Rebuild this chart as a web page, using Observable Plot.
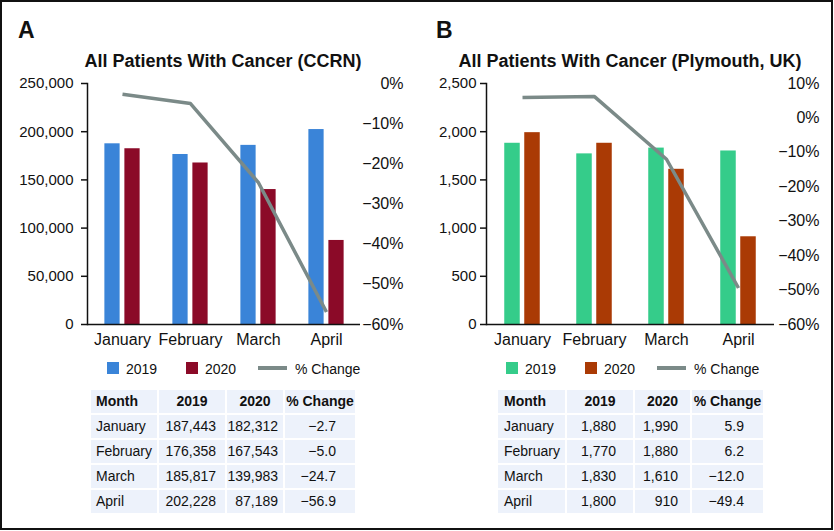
<!DOCTYPE html>
<html>
<head>
<meta charset="utf-8">
<script src="https://cdn.jsdelivr.net/npm/d3@7"></script>
<script src="https://cdn.jsdelivr.net/npm/@observablehq/plot@0.6"></script>
<style>
  html, body { margin: 0; padding: 0; background: #fff; }
  body { width: 834px; height: 531px; position: relative; overflow: hidden;
         font-family: "Liberation Sans", Arial, Helvetica, sans-serif; color: #111; }
  .frame { position: absolute; left: 0; top: 0; width: 833px; height: 530px;
           border: 2px solid #111; box-sizing: border-box; }
  .abs { position: absolute; white-space: nowrap; }
  .plabel { font-size: 23px; line-height: 23px; font-weight: bold; }
  .title { font-size: 18px; line-height: 18px; font-weight: bold; text-align: center; width: 400px; }
  .leg { font-size: 14px; line-height: 14px; }
  .sw { position: absolute; width: 12px; height: 12px; }
  .ln { position: absolute; height: 4px; }
  table.t { position: absolute; border-collapse: separate; border-spacing: 2px; table-layout: fixed;
            font-size: 14px; }
  table.t td { background: #edf2fb; padding: 0; height: 23px; line-height: 23px; white-space: nowrap; }
  table.t td.h { font-weight: bold; }
  table.t td.c { text-align: center; }
  table.t td.r { text-align: right; }
</style>
</head>
<body>
<div class="frame"></div>
<script>
// ---- data ----
const months = ["January", "February", "March", "April"];
const years = ["2019", "2020"];
const ccrn2019 = [187443, 176358, 185817, 202228];
const ccrn2020 = [182312, 167543, 139983, 87189];
const ccrnChange = [-2.7, -5.0, -24.7, -56.9];
const ply2019 = [1880, 1770, 1830, 1800];
const ply2020 = [1990, 1880, 1610, 910];
const plyChange = [5.9, 6.2, -12.0, -49.4];
const ccrnCountTicks = [0, 50000, 100000, 150000, 200000, 250000];
const ccrnPctTicks = [-60, -50, -40, -30, -20, -10, 0];
const plyCountTicks = [0, 500, 1000, 1500, 2000, 2500];
const plyPctTicks = [-60, -50, -40, -30, -20, -10, 0, 10];
const legendLabels = ["2019", "2020", "% Change"];
const tableHeader = ["Month", "2019", "2020", "% Change"];

const lineColor = "#7b8a88";

function panel(cfg) {
  const countMax = cfg.countTicks[cfg.countTicks.length - 1];
  const pMin = cfg.pctTicks[0], pMax = cfg.pctTicks[cfg.pctTicks.length - 1];
  const toCount = p => (p - pMin) / (pMax - pMin) * countMax;
  const fromCount = v => v / countMax * (pMax - pMin) + pMin;
  const bars19 = months.map((m, i) => ({month: m, value: cfg.v2019[i]}));
  const bars20 = months.map((m, i) => ({month: m, value: cfg.v2020[i]}));
  const line = months.map((m, i) => ({month: m, value: toCount(cfg.change[i])}));
  const pctFmt = d3.format("d");

  const bw = (cfg.width - cfg.ml - cfg.mr) / months.length;
  const inset = (bw - 15.5) / 2;

  const chart = Plot.plot({
    width: cfg.width,
    height: 282,
    marginLeft: cfg.ml,
    marginRight: cfg.mr,
    marginTop: 13,
    marginBottom: 28,
    style: {fontFamily: '"Liberation Sans", Arial, sans-serif', fontSize: "15px", color: "#111", background: "transparent", overflow: "visible"},
    x: {type: "band", domain: months, padding: 0, axis: null},
    y: {domain: [0, countMax], axis: null},
    marks: [
      Plot.barY(bars19, {x: "month", y: "value", fill: cfg.c19, insetLeft: inset, insetRight: inset, dx: -10}),
      Plot.barY(bars20, {x: "month", y: "value", fill: cfg.c20, insetLeft: inset, insetRight: inset, dx: 10}),
      Plot.line(line, {x: "month", y: "value", stroke: lineColor, strokeWidth: 3.5, strokeLinecap: "butt"}),
      Plot.ruleY([0], {stroke: "#111", strokeWidth: 1.5}),
      Plot.frame({anchor: "left", stroke: "#111", strokeWidth: 1.5}),
      Plot.axisY(cfg.countTicks, {anchor: "left", tickSize: 6, tickPadding: cfg.lpad, strokeWidth: 1.5, tickFormat: d3.format(","), label: null}),
      Plot.axisY(cfg.pctTicks.map(toCount), {anchor: "right", tickSize: 0, tickPadding: 0, textAnchor: "end", dx: cfg.rdx, fontSize: 16,
        tickFormat: v => pctFmt(Math.round(fromCount(v))) + "%", label: null}),
      Plot.axisX({tickSize: 0, tickPadding: 9, fontSize: 16, label: null})
    ]
  });
  chart.style.position = "absolute";
  chart.style.left = cfg.left + "px";
  chart.style.top = "70px";
  document.body.appendChild(chart);

  // panel letter and title
  const pl = document.createElement("div");
  pl.className = "abs plabel";
  pl.style.left = cfg.letterX + "px"; pl.style.top = "19px";
  pl.textContent = cfg.letter;
  document.body.appendChild(pl);
  const t = document.createElement("div");
  t.className = "abs title";
  t.style.left = (cfg.titleCx - 200) + "px"; t.style.top = "52px";
  t.textContent = cfg.title;
  document.body.appendChild(t);

  // legend
  const colors = [cfg.c19, cfg.c20];
  cfg.legend.forEach((L, i) => {
    if (i < 2) {
      const s = document.createElement("div");
      s.className = "sw"; s.style.left = L.sx + "px"; s.style.top = "362px"; s.style.background = colors[i];
      document.body.appendChild(s);
    } else {
      const s = document.createElement("div");
      s.className = "ln"; s.style.left = L.sx + "px"; s.style.top = "366px"; s.style.width = "29px"; s.style.background = lineColor;
      document.body.appendChild(s);
    }
    const tx = document.createElement("div");
    tx.className = "abs leg"; tx.style.left = L.tx + "px"; tx.style.top = "362px";
    tx.textContent = legendLabels[i];
    document.body.appendChild(tx);
  });

  // table
  const tb = document.createElement("table");
  tb.className = "t";
  tb.style.left = (cfg.tableX - 2) + "px"; tb.style.top = "388px";
  const W = cfg.colW, P = cfg.pad;
  let html = "<tr>";
  html += `<td class="h" style="width:${W[0]}px"><span style="padding-left:${P[0]}px">${tableHeader[0]}</span></td>`;
  for (let c = 1; c < 4; c++) html += `<td class="h c" style="width:${W[c]}px">${tableHeader[c]}</td>`;
  html += "</tr>";
  const nf = d3.format(","), pf = d3.format(".1f");
  months.forEach((m, i) => {
    html += "<tr>";
    html += `<td><span style="padding-left:${P[0]}px">${m}</span></td>`;
    html += `<td class="r"><span style="padding-right:${P[1]}px">${nf(cfg.v2019[i])}</span></td>`;
    html += `<td class="r"><span style="padding-right:${P[2]}px">${nf(cfg.v2020[i])}</span></td>`;
    html += `<td class="r"><span style="padding-right:${P[3]}px">${pf(cfg.change[i])}</span></td>`;
    html += "</tr>";
  });
  tb.innerHTML = html;
  document.body.appendChild(tb);
}

panel({
  letter: "A", letterX: 18, title: "All Patients With Cancer (CCRN)", titleCx: 223,
  left: 0, width: 414, ml: 87, mr: 54, rdx: 43, lpad: 8,
  v2019: ccrn2019, v2020: ccrn2020, change: ccrnChange,
  countTicks: ccrnCountTicks, pctTicks: ccrnPctTicks,
  c19: "#3a84d8", c20: "#8b0a28",
  legend: [{sx: 107, tx: 126}, {sx: 186, tx: 205}, {sx: 258, tx: 295}],
  tableX: 91, colW: [66, 66, 56, 70], pad: [5, 9, 5, 19]
});
panel({
  letter: "B", letterX: 436, title: "All Patients With Cancer (Plymouth, UK)", titleCx: 630,
  left: 414, width: 420, ml: 72, mr: 60, rdx: 45, lpad: 4,
  v2019: ply2019, v2020: ply2020, change: plyChange,
  countTicks: plyCountTicks, pctTicks: plyPctTicks,
  c19: "#35cc8a", c20: "#aa3a05",
  legend: [{sx: 506, tx: 525}, {sx: 585, tx: 604}, {sx: 657, tx: 694}],
  tableX: 498, colW: [67, 66, 55, 71], pad: [6, 17, 12, 19]
});
</script>
</body>
</html>
